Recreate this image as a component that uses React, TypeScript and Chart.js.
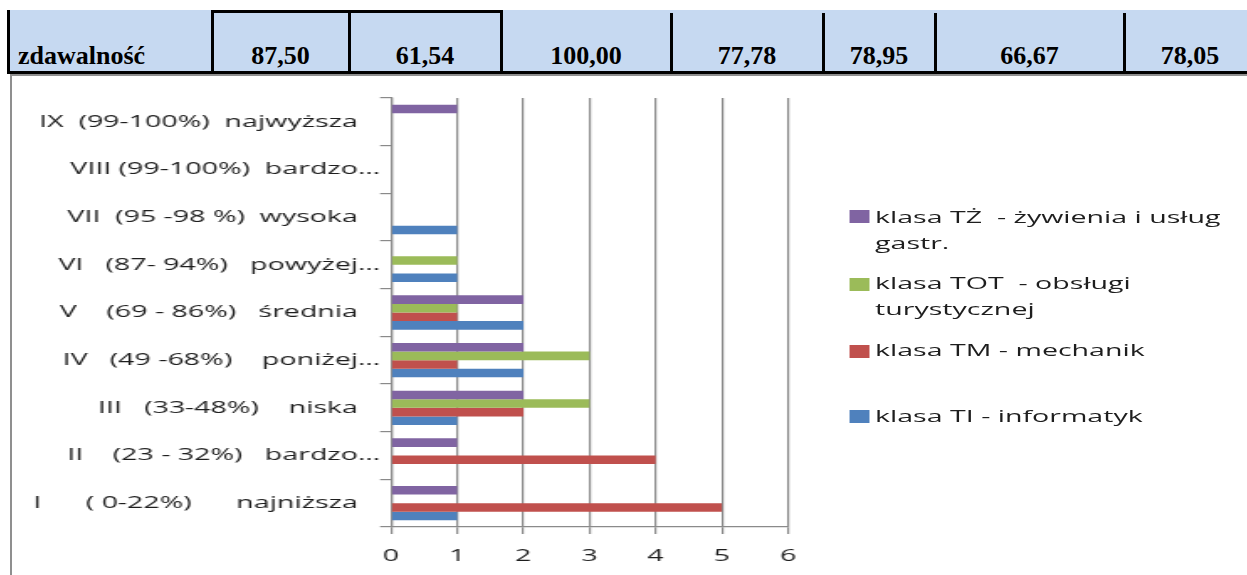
import React, { useEffect, useRef } from "react";
import { Chart, registerables } from "chart.js";

Chart.register(...registerables);

// ---- data ----
const tableHeader = "zdawalność";
const passRates = ["87,50", "61,54", "100,00", "77,78", "78,95", "66,67", "78,05"];

const categories = [
  "I      ( 0-22%)      najniższa",
  "II    (23 - 32%)   bardzo…",
  "III   (33-48%)    niska",
  "IV   (49 -68%)    poniżej…",
  "V    (69 - 86%)   średnia",
  "VI   (87- 94%)   powyżej…",
  "VII  (95 -98 %)  wysoka",
  "VIII (99-100%)  bardzo…",
  "IX  (99-100%)  najwyższa",
];

const seriesNames = [
  "klasa TŻ  - żywienia i usług gastr.",
  "klasa TOT  - obsługi turystycznej",
  "klasa TM - mechanik",
  "klasa TI - informatyk",
];
const tzValues = [1, 1, 2, 2, 2, 0, 0, 0, 1];
const totValues = [0, 0, 3, 3, 1, 1, 0, 0, 0];
const tmValues = [5, 4, 2, 1, 1, 0, 0, 0, 0];
const tiValues = [1, 0, 1, 2, 2, 1, 1, 0, 0];
const xTickValues = [0, 1, 2, 3, 4, 5, 6];

// ---- styles ----
const seriesColors = ["#8064A2", "#9BBB59", "#C0504D", "#4F81BD"];
const gridColor = "#8a8a8a";
const textColor = "#1e1e1e";
const STRETCH = 1.68;
const LOGICAL_W = 736;
const CHART_H = 500;

const cellBorders = [212, 349, 501, 671, 823, 935, 1124, 1256];
const legendTextTops = [129, 195, 262, 328];
const legendSquareTops = [135, 203, 270, 335];

export default function App() {
  const canvasRef = useRef<HTMLCanvasElement | null>(null);

  useEffect(() => {
    const allValues = [tzValues, totValues, tmValues, tiValues];
    const font = { family: "'Open Sans'", size: 17 };
    const chart = new Chart(canvasRef.current as HTMLCanvasElement, {
      type: "bar",
      data: {
        labels: categories,
        datasets: seriesNames.map((name, i) => ({
          label: name,
          data: allValues[i],
          backgroundColor: seriesColors[i],
          borderWidth: 0,
          categoryPercentage: 0.72,
          barPercentage: 1,
        })),
      },
      options: {
        indexAxis: "y",
        animation: false,
        responsive: false,
        events: [],
        layout: { padding: { left: 0, top: 23, right: LOGICAL_W - 462.5, bottom: 0 } },
        plugins: {
          legend: { display: false },
          tooltip: { enabled: false },
        },
        scales: {
          x: {
            min: xTickValues[0],
            max: xTickValues[xTickValues.length - 1],
            ticks: { stepSize: 1, font, color: textColor, padding: 12 },
            grid: { color: gridColor, lineWidth: 1.2, tickLength: 7 },
            border: { color: gridColor, width: 1.2 },
            afterFit: (s: any) => {
              s.height = 48;
            },
          },
          y: {
            reverse: true,
            ticks: {
              font,
              color: textColor,
              padding: 0,
              autoSkip: false,
              callback: function (this: any, v: any) {
                const l = this.getLabelForValue(v);
                return l.endsWith("…") ? l : l + "   ";
              },
            },
            grid: {
              drawOnChartArea: false,
              color: gridColor,
              lineWidth: 1.2,
              tickLength: 6.5,
              offset: true,
            },
            border: { color: gridColor, width: 1.2 },
            afterFit: (s: any) => {
              s.width = 226.2;
            },
          },
        },
      } as any,
    });
    return () => chart.destroy();
  }, []);

  const black = "#000";
  return (
    <div
      style={{
        position: "absolute",
        left: 0,
        top: 0,
        width: 1247,
        height: 575,
        overflow: "hidden",
        background: "#fff",
      }}
    >
      {/* table band */}
      <div style={{ position: "absolute", left: 8, top: 10, width: 1239, height: 63, background: "#C6D9F1" }} />
      <div style={{ position: "absolute", left: 7, top: 10, width: 3, height: 64, background: black }} />
      <div style={{ position: "absolute", left: 211, top: 10, width: 291, height: 3, background: black }} />
      <div style={{ position: "absolute", left: 8, top: 71, width: 1239, height: 3, background: black }} />
      {cellBorders.slice(0, 7).map((x, i) => (
        <div
          key={"b" + i}
          style={{
            position: "absolute",
            left: x - 1,
            top: i < 3 ? 10 : 13,
            width: 3,
            height: i < 3 ? 62 : 59,
            background: black,
          }}
        />
      ))}
      <div
        style={{
          position: "absolute",
          left: 18,
          top: 43,
          font: "bold 26px 'Liberation Serif'",
          lineHeight: "26px",
          color: "#000",
          whiteSpace: "nowrap",
        }}
      >
        {tableHeader}
      </div>
      {passRates.map((v, i) => (
        <div
          key={"v" + i}
          style={{
            position: "absolute",
            left: cellBorders[i],
            width: cellBorders[i + 1] - cellBorders[i],
            top: 43,
            textAlign: "center",
            font: "bold 26px 'Liberation Serif'",
            lineHeight: "26px",
            color: "#000",
            whiteSpace: "nowrap",
          }}
        >
          {v}
        </div>
      ))}
      {/* chart frame */}
      <div style={{ position: "absolute", left: 10, top: 74, width: 1237, height: 2, background: "#8f8f8f" }} />
      <div style={{ position: "absolute", left: 10, top: 74, width: 2, height: 501, background: "#8f8f8f" }} />

      {/* stretched chart container */}
      <div
        style={{
          position: "absolute",
          left: 11,
          top: 75,
          width: LOGICAL_W,
          height: CHART_H,
          transform: `scaleX(${STRETCH})`,
          transformOrigin: "0 0",
        }}
      >
        <canvas
          ref={canvasRef}
          width={LOGICAL_W}
          height={CHART_H}
          style={{ width: LOGICAL_W + "px", height: CHART_H + "px", display: "block" }}
        />
        {seriesNames.map((name, i) => (
          <React.Fragment key={"l" + i}>
            <div
              style={{
                position: "absolute",
                left: 498.8,
                top: legendSquareTops[i],
                width: 12.3,
                height: 13,
                background: seriesColors[i],
              }}
            />
            <div
              style={{
                position: "absolute",
                left: 514.3,
                top: legendTextTops[i],
                width: 215,
                fontFamily: "'Open Sans'",
                fontSize: 17,
                lineHeight: "25.5px",
                color: textColor,
                whiteSpace: "pre-wrap",
              }}
            >
              {name}
            </div>
          </React.Fragment>
        ))}
      </div>
    </div>
  );
}
